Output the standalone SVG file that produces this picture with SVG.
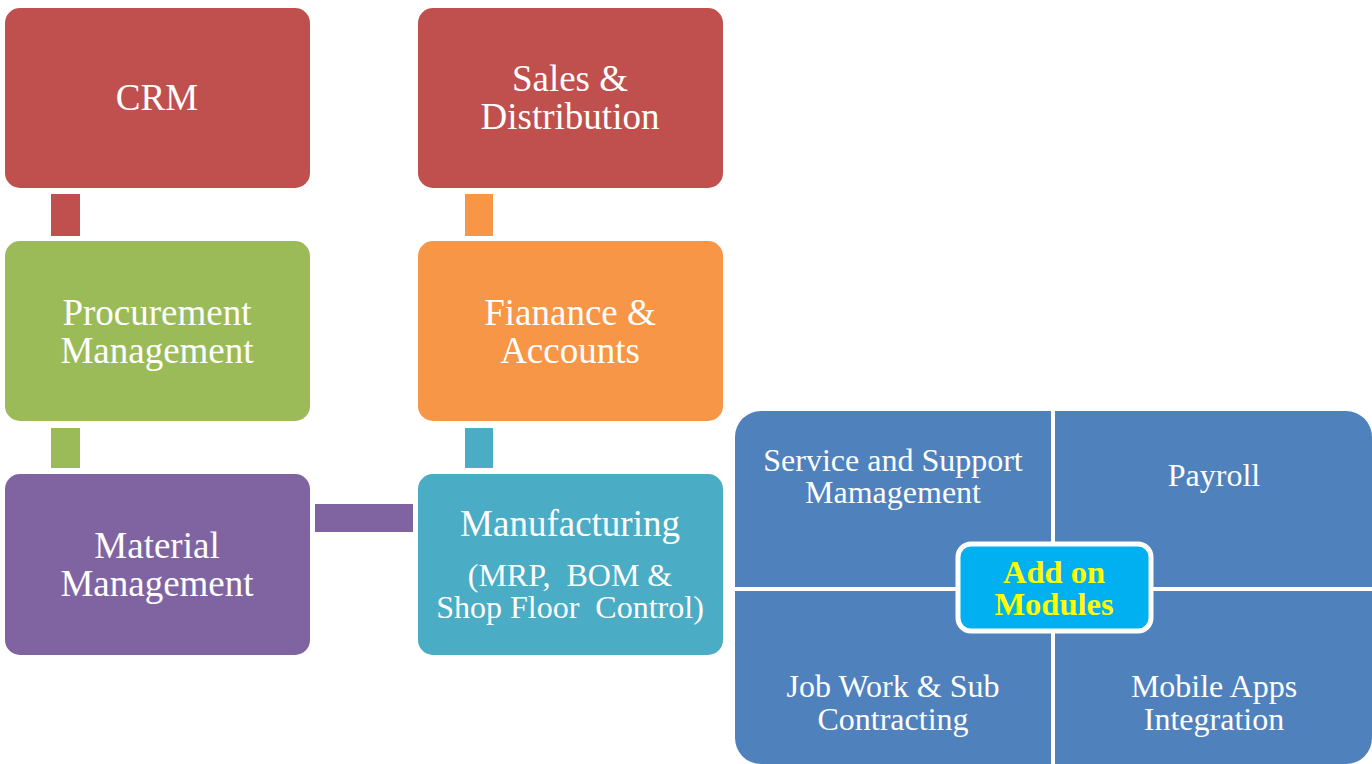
<svg xmlns="http://www.w3.org/2000/svg" width="1372" height="764" viewBox="0 0 1372 764">
<style>
text{font-family:"Liberation Serif","Times New Roman",serif;fill:#fff;text-anchor:middle}
.m{font-size:37px}
.s{font-size:32px}
.q{font-size:32px}
.c{font-size:32.5px;font-weight:bold;fill:#FFFF00}
</style>
<rect width="1372" height="764" fill="#fff"/>
<g id="connectors">
<rect x="51" y="194" width="29" height="42" fill="#C0504D"/>
<rect x="51" y="428" width="29" height="40" fill="#9BBB59"/>
<rect x="465" y="194" width="28" height="42" fill="#F79646"/>
<rect x="465" y="428" width="28" height="40" fill="#4BACC6"/>
<rect x="315" y="504" width="98" height="28" fill="#8064A2"/>
</g>
<g id="crm"><rect x="5" y="8" width="305" height="180" rx="15" fill="#C0504D"/><text class="m" x="157" y="110">CRM</text></g>
<g id="sales"><rect x="418" y="8" width="305" height="180" rx="15" fill="#C0504D"/><text class="m" x="570" y="91">Sales &amp;</text><text class="m" x="570" y="129">Distribution</text></g>
<g id="procurement"><rect x="5" y="241" width="305" height="180" rx="15" fill="#9BBB59"/><text class="m" x="157" y="325">Procurement</text><text class="m" x="157" y="363">Management</text></g>
<g id="finance"><rect x="418" y="241" width="305" height="180" rx="15" fill="#F79646"/><text class="m" x="570" y="325">Fianance &amp;</text><text class="m" x="570" y="363">Accounts</text></g>
<g id="material"><rect x="5" y="474" width="305" height="181" rx="15" fill="#8064A2"/><text class="m" x="157" y="558">Material</text><text class="m" x="157" y="596">Management</text></g>
<g id="manufacturing"><rect x="418" y="474" width="305" height="181" rx="15" fill="#4BACC6"/><text class="m" x="570" y="536">Manufacturing</text><text class="s" x="570" y="586" xml:space="preserve">(MRP,  BOM &amp;</text><text class="s" x="570" y="618" xml:space="preserve">Shop Floor  Control)</text></g>
<g id="service"><path d="M735,587 V437 A26,26 0 0 1 761,411 H1051 V587 Z" fill="#4F81BD"/><text class="q" x="893" y="471">Service and Support</text><text class="q" x="893" y="503">Mamagement</text></g>
<g id="payroll"><path d="M1055,587 V411 H1346 A26,26 0 0 1 1372,437 V587 Z" fill="#4F81BD"/><text class="q" x="1214" y="486">Payroll</text></g>
<g id="jobwork"><path d="M735,591 V738 A26,26 0 0 0 761,764 H1051 V591 Z" fill="#4F81BD"/><text class="q" x="893" y="697">Job Work &amp; Sub</text><text class="q" x="893" y="730">Contracting</text></g>
<g id="mobile"><path d="M1055,591 V764 H1346 A26,26 0 0 0 1372,738 V591 Z" fill="#4F81BD"/><text class="q" x="1214" y="697">Mobile Apps</text><text class="q" x="1214" y="730">Integration</text></g>
<g id="addon"><rect x="958" y="544" width="193" height="87" rx="13" fill="#00B0F0" stroke="#fff" stroke-width="5"/><text class="c" x="1054" y="583">Add on</text><text class="c" x="1054" y="615">Modules</text></g>
</svg>
